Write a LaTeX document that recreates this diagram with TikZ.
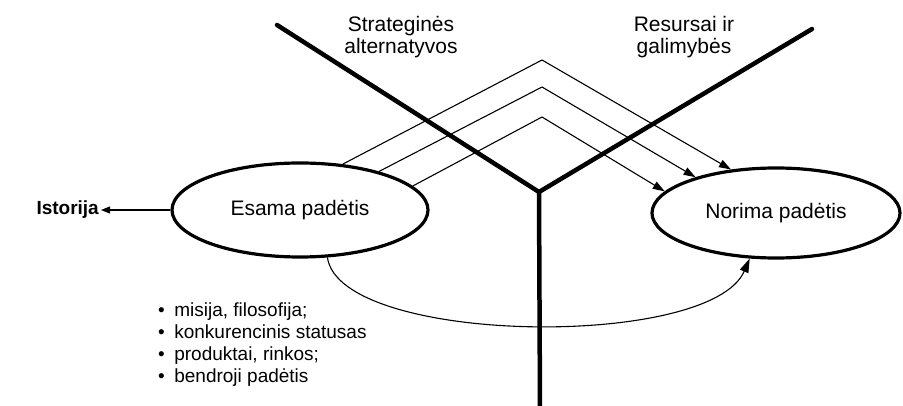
\documentclass[tikz,border=0pt]{standalone}
\usepackage{fontspec}
\setmainfont{Liberation Sans}
\usetikzlibrary{shapes.geometric,arrows.meta}
\tikzset{
    state/.style={ellipse,draw,line width=3.2pt,inner sep=0pt,font=\fontsize{21}{22}\selectfont},
    axis/.style={line width=4.5pt,line cap=round},
    alt/.style={line width=1.1pt,-{Triangle[length=12pt,width=8pt]}},
    lbl/.style={align=center,font=\fontsize{21}{22}\selectfont}
}

\begin{document}
\begin{tikzpicture}[x=1pt,y=-1pt]
    \useasboundingbox (0,0) rectangle (903,406);

    % Y axes
    \coordinate (vtx) at (539,192);
    \coordinate (topL) at (277,25);
    \coordinate (topR) at (812,29);
    \coordinate (bot) at (540,410);
    \draw[axis] (topL) -- (vtx) -- (topR);
    \draw[axis,line cap=butt] (vtx) -- (bot);

    % Axis labels
    \node[lbl] (strat) at (401,37) {Strateginės\\alternatyvos};
    \node[lbl] (res) at (684,37) {Resursai ir\\galimybės};

    % States
    \node[state,minimum width=256pt,minimum height=94pt] (esama) at (300,210) {Esama padėtis};
    \node[state,minimum width=248pt,minimum height=90pt] (norima) at (776,213) {Norima padėtis};

    % History
    \node[font=\bfseries\fontsize{19}{20}\selectfont,anchor=base east,inner sep=2pt] (ist) at (101,215) {Istorija};
    \draw[line width=1.1pt,-{Triangle[length=9pt,width=7pt]}] (esama.west) -- (ist.east |- esama.west);

    % Alternatives
    \coordinate (apexA) at (542,60);
    \coordinate (apexB) at (542,87);
    \coordinate (apexC) at (542,117);
    \draw[alt] (esama.47) -- (apexA) -- (norima.136);
    \draw[alt] (esama.26) -- (apexB) -- (norima.156);
    \draw[alt] (esama.12) -- (apexC) -- (norima.169);

    % Direct path below
    \draw[line width=1.1pt,-{Triangle[length=14pt,width=9pt]}] (esama.300) .. controls (340,345) and (710,350) .. (norima.240);

    % Factors
    \node[anchor=west,align=left,inner sep=0pt,font=\fontsize{19}{22}\selectfont] (list) at (158,345)
        {•\enspace misija, filosofija;\\•\enspace konkurencinis statusas\\•\enspace produktai, rinkos;\\•\enspace bendroji padėtis};
\end{tikzpicture}
\end{document}
